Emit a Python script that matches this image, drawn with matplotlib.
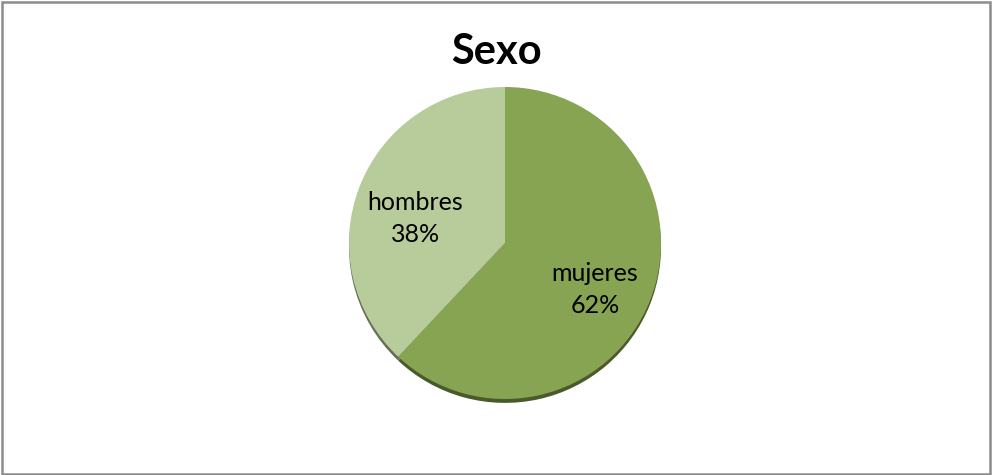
import matplotlib.pyplot as plt
from matplotlib.patches import Rectangle
import numpy as np

categorias = ['mujeres', 'hombres']
porcentajes = [62, 38]
colores = ['#86A451', '#B8CB9A']

plt.rcParams['font.family'] = ['Lato', 'DejaVu Sans']

fig = plt.figure(figsize=(9.92, 4.75), dpi=100)
fig.patch.set_facecolor('white')

# marco gris alrededor del grafico
fig.add_artist(Rectangle((0.002, 0.003), 0.996, 0.993, transform=fig.transFigure,
                         fill=False, edgecolor='#8C8C8C', linewidth=1.8))

r = 156
ax = fig.add_axes([(505 - r) / 992, 1 - (243 + r) / 475, 2 * r / 992, 2 * r / 475])
wedges, textos = ax.pie(porcentajes, colors=colores, startangle=90, counterclock=False,
                        radius=1, labels=None,
                        shadow={'ox': 0.0, 'oy': -0.018, 'shade': 0.45, 'alpha': 1.0},
                        wedgeprops={'linewidth': 0})
ax.set_xlim(-1, 1)
ax.set_ylim(-1, 1)
ax.set_aspect('equal')

# etiquetas dentro de cada porcion
for w, cat, p in zip(wedges, categorias, porcentajes):
    ang = np.deg2rad((w.theta1 + w.theta2) / 2)
    x = 0.62 * np.cos(ang)
    y = 0.62 * np.sin(ang) - 0.07
    ax.text(x, y, f'{cat}\n{p}%', ha='center', va='center', fontsize=18,
            color='black', linespacing=1.45)

fig.text(0.500, 1 - 52 / 475, 'Sexo', ha='center', va='center', fontsize=30,
         fontweight='bold', color='black')

fig.savefig('out.png', dpi=100, facecolor='white')
